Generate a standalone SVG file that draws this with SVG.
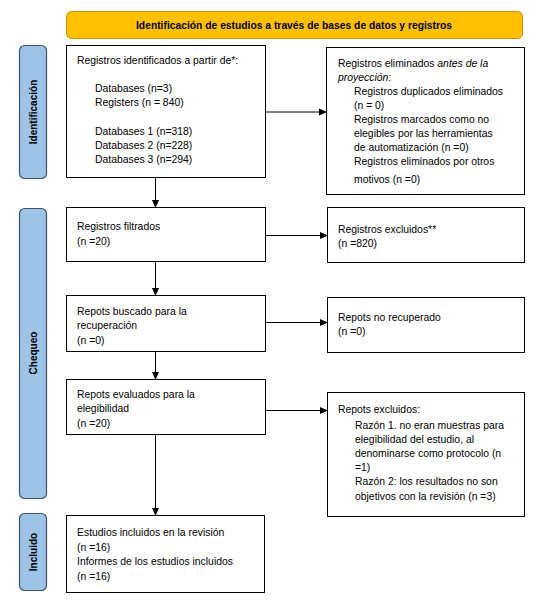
<svg xmlns="http://www.w3.org/2000/svg" width="540" height="605" viewBox="0 0 540 605">
<defs>
<marker id="ah" markerWidth="8" markerHeight="8" refX="7" refY="4" orient="auto" markerUnits="userSpaceOnUse">
<path d="M0,0.5 L8,4 L0,7.5 Z" fill="#000"/>
</marker>
</defs>
<style>
.box{fill:#fff;stroke:#000;stroke-width:1}
.side{fill:#9DC3E6;stroke:#41546B;stroke-width:1.2}
.t{font-family:"Liberation Sans",Arial,sans-serif;font-size:10.4px;fill:#000}
.b{font-family:"Liberation Sans",Arial,sans-serif;font-size:10px;font-weight:bold;fill:#000}
.c{stroke:#000;stroke-width:1;fill:none;marker-end:url(#ah)}
</style>
<rect width="540" height="605" fill="#fff"/>
<g id="header">
<rect x="66.5" y="11.5" width="456" height="27" rx="5" fill="#FFC000" stroke="#BF9000"/>
<text class="b" x="294" y="28.5" text-anchor="middle" textLength="316" lengthAdjust="spacingAndGlyphs">Identificación de estudios a través de bases de datos y registros</text>
</g>
<g id="side-identificacion">
<rect class="side" x="19.5" y="45.5" width="27" height="133" rx="5"/>
<text class="b" transform="translate(36.5,112) rotate(-90)" text-anchor="middle">Identificación</text>
</g>
<g id="side-chequeo">
<rect class="side" x="19.5" y="208.5" width="27" height="290" rx="5"/>
<text class="b" transform="translate(36.5,353) rotate(-90)" text-anchor="middle">Chequeo</text>
</g>
<g id="side-incluido">
<rect class="side" x="19.5" y="513.5" width="27" height="77" rx="5"/>
<text class="b" transform="translate(36.5,552) rotate(-90)" text-anchor="middle">Incluido</text>
</g>
<g id="n-identificados">
<rect class="box" x="66.5" y="45.5" width="199" height="132"/>
<text class="t" x="77" y="64">Registros identificados a partir de*:</text>
<text class="t" x="95" y="92">Databases (n=3)</text>
<text class="t" x="95" y="106">Registers (n = 840)</text>
<text class="t" x="95" y="135">Databases 1 (n=318)</text>
<text class="t" x="95" y="149">Databases 2 (n=228)</text>
<text class="t" x="95" y="163">Databases 3 (n=294)</text>
</g>
<g id="n-eliminados">
<rect class="box" x="326.5" y="47.5" width="198" height="147"/>
<text class="t" x="338" y="67">Registros eliminados <tspan font-style="italic">antes de la</tspan></text>
<text class="t" x="338" y="81"><tspan font-style="italic">proyección</tspan>:</text>
<text class="t" x="354" y="95">Registros duplicados eliminados</text>
<text class="t" x="354" y="109">(n = 0)</text>
<text class="t" x="354" y="123">Registros marcados como no</text>
<text class="t" x="354" y="137">elegibles por las herramientas</text>
<text class="t" x="354" y="151">de automatización (n =0)</text>
<text class="t" x="354" y="165">Registros eliminados por otros</text>
<text class="t" x="354" y="183">motivos (n =0)</text>
</g>
<g id="n-filtrados">
<rect class="box" x="66.5" y="207.5" width="199" height="54"/>
<text class="t" x="77" y="230">Registros filtrados</text>
<text class="t" x="77" y="245">(n =20)</text>
</g>
<g id="n-excluidos">
<rect class="box" x="327.5" y="207.5" width="197" height="55"/>
<text class="t" x="338" y="233">Registros excluidos**</text>
<text class="t" x="338" y="247">(n =820)</text>
</g>
<g id="n-buscado">
<rect class="box" x="66.5" y="295.5" width="199" height="56"/>
<text class="t" x="77" y="315">Repots buscado para la</text>
<text class="t" x="77" y="329">recuperación</text>
<text class="t" x="77" y="344">(n =0)</text>
</g>
<g id="n-norecuperado">
<rect class="box" x="327.5" y="297.5" width="197" height="55"/>
<text class="t" x="338" y="321">Repots no recuperado</text>
<text class="t" x="338" y="335">(n =0)</text>
</g>
<g id="n-evaluados">
<rect class="box" x="66.5" y="379.5" width="199" height="55"/>
<text class="t" x="77" y="398">Repots evaluados para la</text>
<text class="t" x="77" y="412">elegibilidad</text>
<text class="t" x="77" y="427">(n =20)</text>
</g>
<g id="n-repexcluidos">
<rect class="box" x="327.5" y="392.5" width="197" height="124"/>
<text class="t" x="338" y="413">Repots excluidos:</text>
<text class="t" x="355" y="429">Razón 1. no eran muestras para</text>
<text class="t" x="355" y="443">elegibilidad del estudio, al</text>
<text class="t" x="355" y="457">denominarse como protocolo (n</text>
<text class="t" x="355" y="471">=1)</text>
<text class="t" x="355" y="485">Razón 2: los resultados no son</text>
<text class="t" x="355" y="500">objetivos con la revisión (n =3)</text>
</g>
<g id="n-incluidos">
<rect class="box" x="66.5" y="515.5" width="198" height="77"/>
<text class="t" x="77" y="536">Estudios incluidos en la revisión</text>
<text class="t" x="77" y="551">(n =16)</text>
<text class="t" x="77" y="565">Informes de los estudios incluidos</text>
<text class="t" x="77" y="580">(n =16)</text>
</g>
<g id="connectors">
<line class="c" x1="265.5" y1="112" x2="326" y2="112"/>
<line class="c" x1="155.5" y1="178" x2="155.5" y2="207"/>
<line class="c" x1="265.5" y1="235.5" x2="327" y2="235.5"/>
<line class="c" x1="155.5" y1="262" x2="155.5" y2="295"/>
<line class="c" x1="265.5" y1="322.5" x2="327" y2="322.5"/>
<line class="c" x1="155.5" y1="352" x2="155.5" y2="379"/>
<line class="c" x1="265.5" y1="410.5" x2="327" y2="410.5"/>
<line class="c" x1="155.5" y1="435" x2="155.5" y2="515"/>
</g>
</svg>
